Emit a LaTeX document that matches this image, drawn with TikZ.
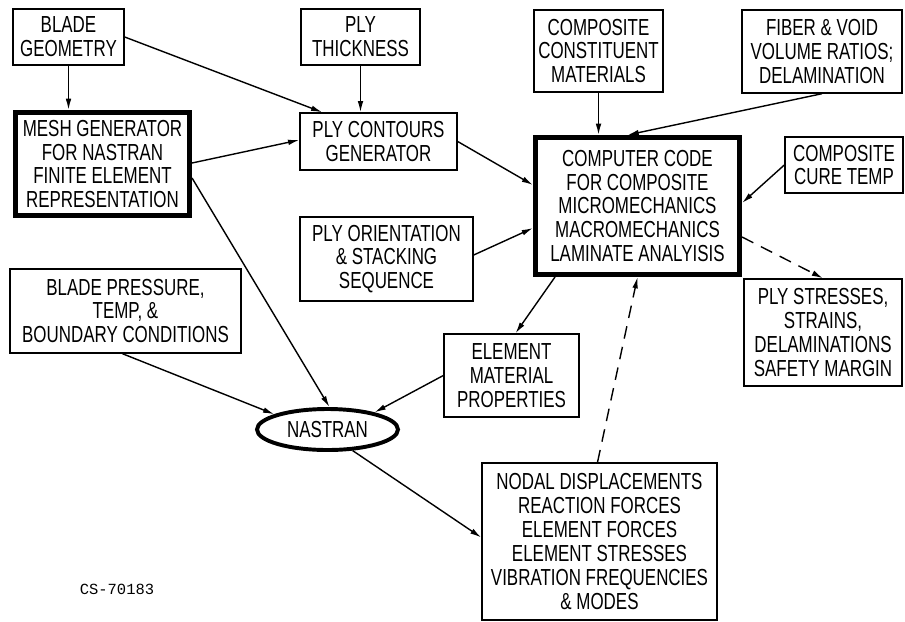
\documentclass[tikz,border=0pt]{standalone}
\usepackage{fontspec}
\setmainfont{Liberation Sans}[FakeStretch=0.73]
\newfontfamily\csfont{Liberation Mono}
\usepackage{tikz}
\usetikzlibrary{calc,arrows.meta,shapes.geometric}
\def\boxtext{\fontsize{16.5}{17}\selectfont}

\begin{document}
\begin{tikzpicture}[x=0.25mm,y=-0.25mm,
  box/.style={draw,line width=1pt,inner sep=0pt,align=center,font=\boxtext},
  heavybox/.style={box,line width=3.6pt},
  link/.style={line width=1pt,-{Latex[length=8pt,width=4pt]}},
  dashlink/.style={link,dash pattern=on 9pt off 6pt}]
\useasboundingbox (0,0) rectangle (905,621);
\node[box,minimum width=27.75mm,minimum height=14mm] at (68.5,37) (geom) {BLADE\\GEOMETRY};
\node[heavybox,minimum width=43.5mm,minimum height=25.75mm] at (102.5,164) (mesh) {MESH GENERATOR\\FOR NASTRAN\\FINITE ELEMENT\\REPRESENTATION};
\node[box,minimum width=29.75mm,minimum height=14mm] at (360.5,37) (thick) {PLY\\THICKNESS};
\node[box,minimum width=39.25mm,minimum height=14.25mm] at (378.5,141.5) (contours) {PLY CONTOURS\\GENERATOR};
\node[box,minimum width=32.25mm,minimum height=20.5mm] at (598.5,51) (constit) {COMPOSITE\\CONSTITUENT\\MATERIALS};
\node[box,minimum width=40mm,minimum height=20.75mm] at (822,51.5) (fiber) {FIBER \& VOID\\VOLUME RATIOS;\\DELAMINATION};
\node[heavybox,minimum width=51mm,minimum height=34.25mm] at (637.5,206) (code) {COMPUTER CODE\\FOR COMPOSITE\\MICROMECHANICS\\MACROMECHANICS\\LAMINATE ANALYISIS};
\node[box,minimum width=29.5mm,minimum height=14mm] at (844,165) (cure) {COMPOSITE\\CURE TEMP};
\node[box,minimum width=43.25mm,minimum height=21mm] at (386.5,259) (orient) {PLY ORIENTATION\\\& STACKING\\SEQUENCE};
\node[box,minimum width=57.75mm,minimum height=21mm] at (125.5,311) (press) {BLADE PRESSURE,\\TEMP, \&\\BOUNDARY CONDITIONS};
\node[draw,ellipse,line width=2.8pt,inner sep=0pt,minimum width=35.25mm,minimum height=10.25mm,font=\boxtext] at (327.5,429.5) (nastran) {NASTRAN};
\node[box,minimum width=33.75mm,minimum height=20.75mm] at (511.5,375.5) (matprop) {ELEMENT\\MATERIAL\\PROPERTIES};
\node[box,minimum width=39.5mm,minimum height=26.75mm] at (823,332.5) (stress) {PLY STRESSES,\\STRAINS,\\DELAMINATIONS\\SAFETY MARGIN};
\node[box,minimum width=58.75mm,minimum height=39.25mm] at (599.5,541.5) (nodal) {NODAL DISPLACEMENTS\\REACTION FORCES\\ELEMENT FORCES\\ELEMENT STRESSES\\VIBRATION FREQUENCIES\\\& MODES};
\node[font=\csfont\fontsize{11}{13}\selectfont] at (117,589) (csno) {CS-70183};
\draw[link] (geom.south) -- (geom.south |- mesh.north);
\draw[link] (geom.east) -- ($(contours.north west)+(23,0)$);
\draw[link] (thick.south) -- (thick.south |- contours.north);
\draw[link] ($(mesh.east)+(0,-1)$) -- ($(contours.west)+(0,-1.5)$);
\draw[link] ($(mesh.east)+(0,14)$) -- (nastran.85);
\draw[link] (contours.east) -- ($(code.west)+(0,-21)$);
\draw[link] (constit.south) -- (constit.south |- code.north);
\draw[link] (fiber.south) -- ($(code.north)+(-10,0)$);
\draw[link] (cure.west) -- ($(code.east)+(0,-3)$);
\draw[link] ($(orient.east)+(0,-4)$) -- ($(code.west)+(0,22)$);
\draw[link] ($(code.south west)+(22,0)$) -- ($(matprop.north)+(4,0)$);
\draw[dashlink] ($(code.east)+(0,31)$) -- (stress.north);
\draw[dashlink] ($(nodal.north)+(-2,0)$) -- (code.south);
\draw[link] (matprop.west) -- (nastran.20);
\draw[link] ($(press.south)+(-3,0)$) -- (nastran.164);
\draw[link] (nastran.-40) -- ($(nodal.west)+(0,-4)$);
\end{tikzpicture}
\end{document}
